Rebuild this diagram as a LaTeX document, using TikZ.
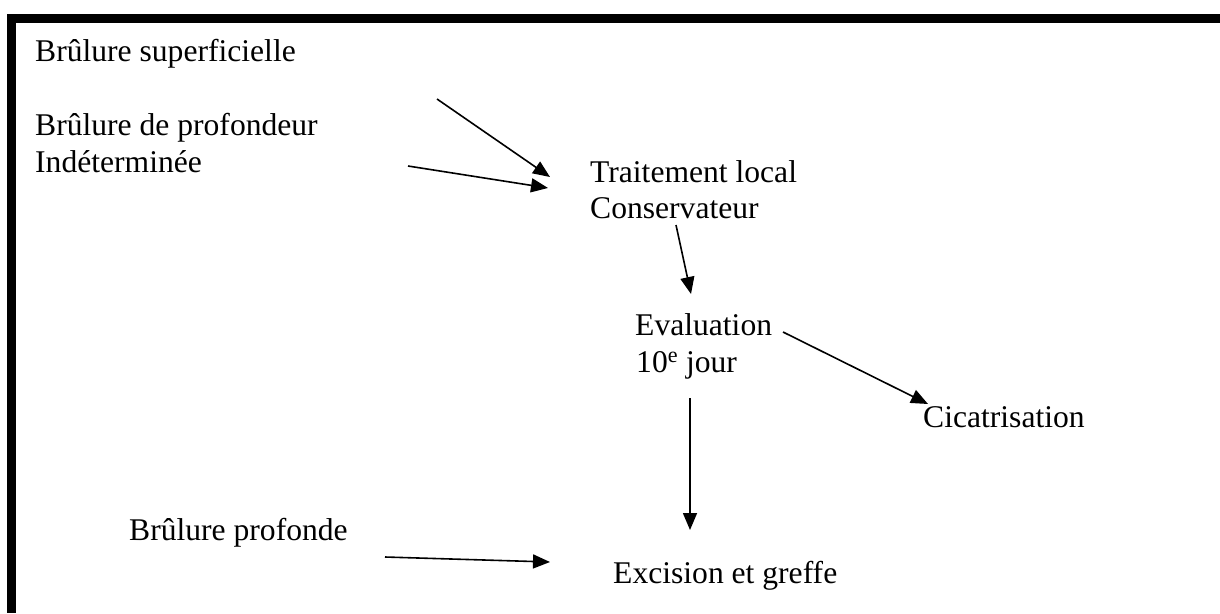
\documentclass[tikz,border=0pt]{standalone}
\usepackage{fontspec}
\setmainfont{Liberation Serif}
\usetikzlibrary{arrows.meta}
\begin{document}
\begin{tikzpicture}[x=1pt,y=1pt,
  lbl/.style={anchor=base west,inner sep=0pt,font=\fontsize{31.6}{36}\selectfont},
  arr/.style={line width=1.6pt,-{Triangle[length=17pt,width=14pt]}}]
\useasboundingbox (0,0) rectangle (1220,-613);
\fill[white] (0,0) rectangle (1220,-613);
% frame
\fill[black] (7,-14) rectangle (16,-613);
\fill[black] (7,-14) rectangle (1220,-23);
% texts
\node[lbl] (sup) at (35,-61) {Brûlure superficielle};
\node[lbl] (indA) at (35,-135) {Brûlure de profondeur};
\node[lbl] (indB) at (35,-172) {Indéterminée};
\node[lbl] (trA) at (590,-182) {Traitement local};
\node[lbl] (trB) at (590,-218) {Conservateur};
\node[lbl] (evA) at (635,-335) {Evaluation};
\node[lbl] (evB) at (636,-372) {10\textsuperscript{e} jour};
\node[lbl] (cic) at (923,-427) {Cicatrisation};
\node[lbl] (prof) at (129,-540) {Brûlure profonde};
\node[lbl] (exc) at (613,-583) {Excision et greffe};
% connector ends
\coordinate (a1s) at (437,-99);   \coordinate (a1e) at (550,-177);
\coordinate (a2s) at (408,-166);  \coordinate (a2e) at (548,-188);
\coordinate (a3s) at (676,-225);  \coordinate (a3e) at (691,-294);
\coordinate (a4s) at (783,-332);  \coordinate (a4e) at (928,-404);
\coordinate (a5s) at (690,-398);  \coordinate (a5e) at (690,-530);
\coordinate (a6s) at (385,-557);  \coordinate (a6e) at (550,-562);
\draw[arr] (a1s) -- (a1e);
\draw[arr] (a2s) -- (a2e);
\draw[arr] (a3s) -- (a3e);
\draw[arr] (a4s) -- (a4e);
\draw[arr] (a5s) -- (a5e);
\draw[arr] (a6s) -- (a6e);
\end{tikzpicture}
\end{document}
